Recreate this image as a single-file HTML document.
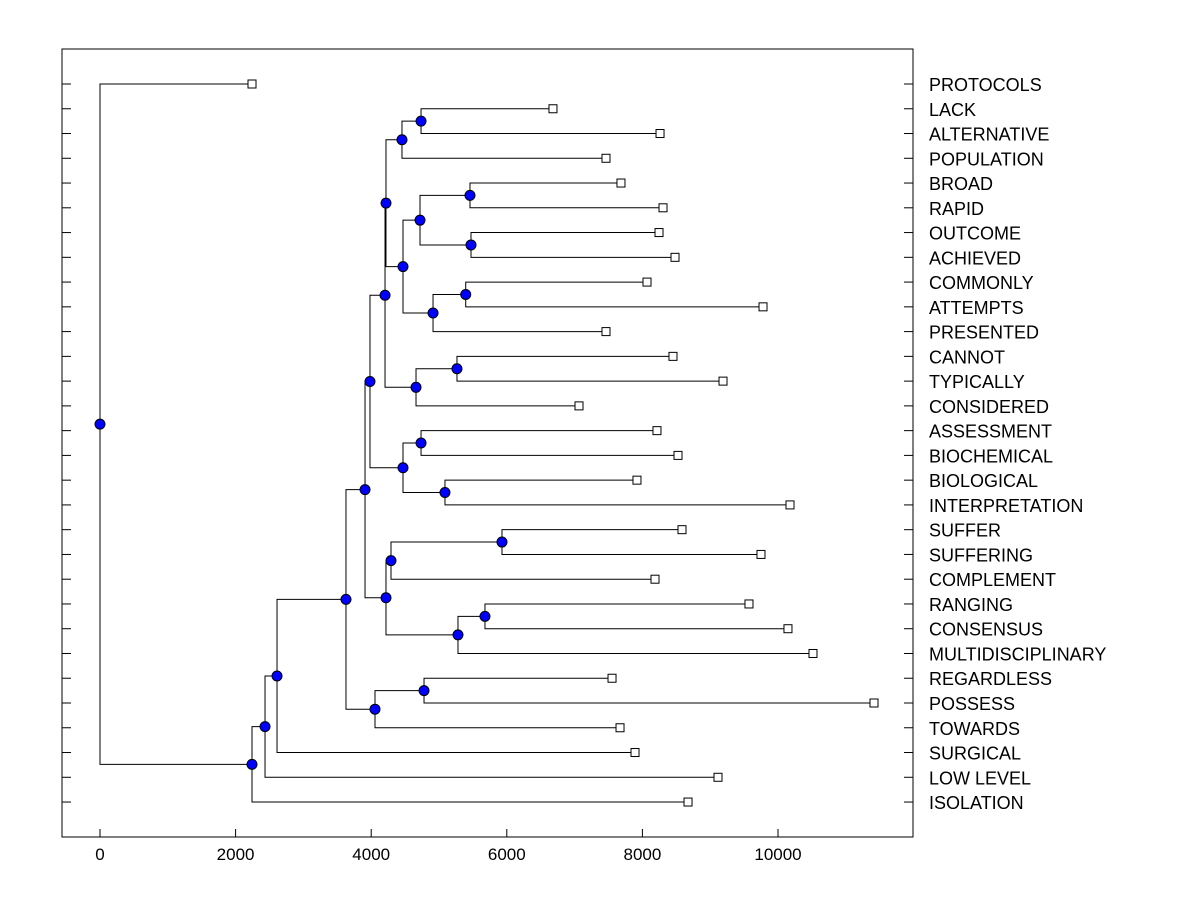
<!DOCTYPE html>
<html><head><meta charset="utf-8"><style>
body{margin:0;background:#fff;}
svg{display:block;font-family:"Liberation Sans",Arial,sans-serif;}
</style></head><body>
<svg id="chart" width="1200" height="900" viewBox="0 0 1200 900">
<rect x="62" y="49" width="851" height="788" fill="none" stroke="#000" stroke-width="1"/>
<g id="axis"></g><g id="links"></g><g id="marks"></g><g id="labels"></g>
</svg>
<script>
const leafNames=["PROTOCOLS","LACK","ALTERNATIVE","POPULATION","BROAD","RAPID","OUTCOME","ACHIEVED","COMMONLY","ATTEMPTS","PRESENTED","CANNOT","TYPICALLY","CONSIDERED","ASSESSMENT","BIOCHEMICAL","BIOLOGICAL","INTERPRETATION","SUFFER","SUFFERING","COMPLEMENT","RANGING","CONSENSUS","MULTIDISCIPLINARY","REGARDLESS","POSSESS","TOWARDS","SURGICAL","LOW LEVEL","ISOLATION"];
const leafValues=[2242,6681,8260,7463,7684,8304,8245,8481,8068,9779,7463,8451,9189,7065,8215,8525,7920,10177,8584,9749,8186,9572,10147,10516,7552,11416,7670,7891,9115,8673];
const mergeA=["L1","N0","L4","L6","N2","L8","N5","N4","N1","L11","N9","N8","L14","L16","N12","N11","L18","N16","L21","N18","N17","N15","L24","N22","N21","N24","N25","N26","L0"];
const mergeB=["L2","L3","L5","L7","N3","L9","L10","N6","N7","L12","L13","N10","L15","L17","N13","N14","L19","L20","L22","L23","N19","N20","L25","L26","N23","L27","L28","L29","N27"];
const mergeHeights=[4735,4454,5457,5472,4720,5394,4912,4469,4218,5265,4661,4204,4735,5088,4469,3982,5929,4292,5678,5280,4218,3909,4779,4056,3628,2611,2434,2242,0];
const xTicks=[0,2000,4000,6000,8000,10000];
</script>
<script>
const NS="http://www.w3.org/2000/svg";
const X=v=>100+v*0.0678;
const Y=i=>84+i*24.76;
function el(t,a,p){const e=document.createElementNS(NS,t);for(const k in a)e.setAttribute(k,a[k]);document.getElementById(p).appendChild(e);return e;}
const axis="axis";
xTicks.forEach(t=>{
 const l=el("line",{x1:X(t),x2:X(t),y1:829,y2:837,stroke:"#000"},axis);
 
 
 const tx=el("text",{x:X(t),y:860,"text-anchor":"middle","font-size":"17"},axis);
 tx.textContent=t;
 
 
});
leafNames.forEach((n,i)=>{
 const a=el("line",{x1:62,x2:71,y1:Y(i),y2:Y(i),stroke:"#000"},axis);
 
 
 const b=el("line",{x1:904,x2:913,y1:Y(i),y2:Y(i),stroke:"#000"},axis);
 
 
 const t=el("text",{x:929,y:Y(i)+7,"font-size":"18"},"labels");
 t.textContent=n;
 
 
});
const pos={};
leafValues.forEach((v,i)=>pos["L"+i]={x:X(v),y:Y(i)});
mergeA.forEach((a,k)=>{
 const pa=pos[a],pb=pos[mergeB[k]],x=X(mergeHeights[k]);
 const y=(pa.y+pb.y)/2;pos["N"+k]={x,y};
 const p=el("path",{d:`M${pa.x},${pa.y}H${x}V${pb.y}H${pb.x}`,fill:"none",stroke:"#000"},"links");
 
 
});
leafValues.forEach((v,i)=>{
 const r=el("rect",{x:X(v)-4,y:Y(i)-4,width:8,height:8,fill:"#fff",stroke:"#000"},"marks");
 
 
});
mergeA.forEach((a,k)=>{
 const p=pos["N"+k];
 const c=el("circle",{cx:p.x,cy:p.y,r:5,fill:"#0000ff",stroke:"#000"},"marks");
 
 
});
</script>
</body></html>
